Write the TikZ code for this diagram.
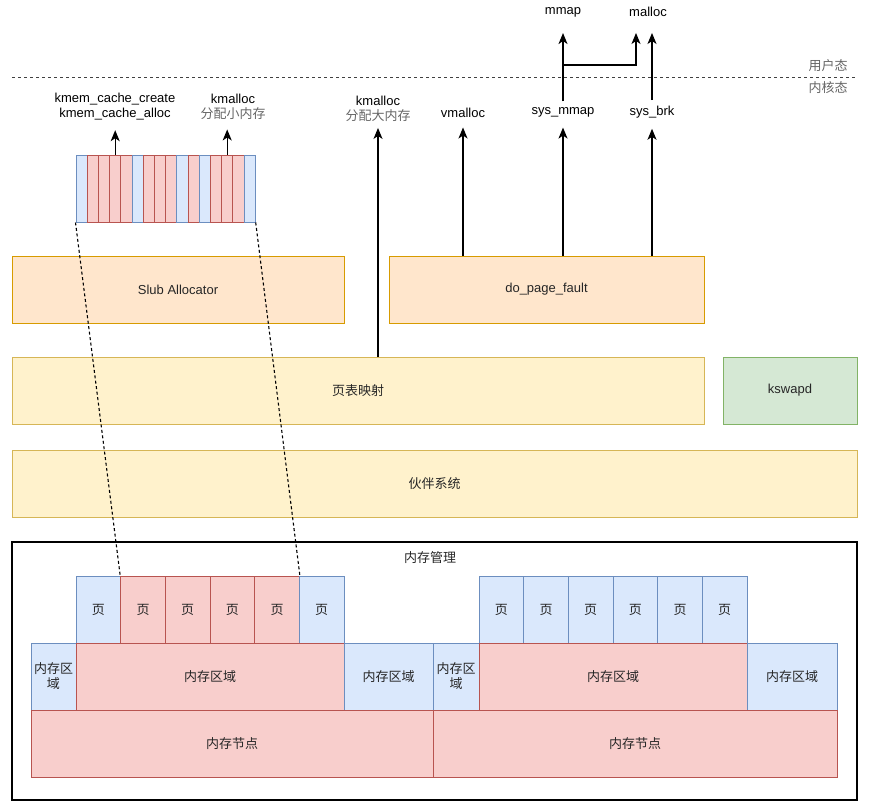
\documentclass[tikz,border=0pt]{standalone}
\usepackage{fontspec}
\setmainfont{Liberation Sans}
\newfontfamily\cjk{Noto Sans CJK SC}
\usepackage{tikz}
\usetikzlibrary{arrows.meta,positioning,calc}
\definecolor{bluefill}{HTML}{DAE8FC}
\definecolor{blueline}{HTML}{6C8EBF}
\definecolor{redfill}{HTML}{F8CECC}
\definecolor{redline}{HTML}{B85450}
\definecolor{orafill}{HTML}{FFE6CC}
\definecolor{oraline}{HTML}{D79B00}
\definecolor{yelfill}{HTML}{FFF2CC}
\definecolor{yelline}{HTML}{D6B656}
\definecolor{grnfill}{HTML}{D5E8D4}
\definecolor{grnline}{HTML}{82B366}
\definecolor{txtgray}{HTML}{666666}
\newcommand{\fs}{\fontsize{13}{15}\selectfont}

\begin{document}
\begin{tikzpicture}[x=1pt, y=-1pt,
  box/.style={draw, line width=1pt, inner sep=0pt, minimum height=67pt, font=\fs\cjk, text=black!85},
  cellb/.style={box, fill=bluefill, draw=blueline},
  cellr/.style={box, fill=redfill, draw=redline},
  orabox/.style={box, fill=orafill, draw=oraline, font=\fs},
  yelbox/.style={box, fill=yelfill, draw=yelline},
  grnbox/.style={box, fill=grnfill, draw=grnline, font=\fs},
  lab/.style={font=\fs, align=center, inner sep=1pt},
  graylab/.style={font=\fs\cjk, text=txtgray, inner sep=1pt},
  arr/.style={-{Stealth[length=11pt,width=9pt,inset=3pt]}, line width=1.2pt, shorten >=9pt},
  sep/.style={dashed, dash pattern=on 3pt off 3pt, line width=1pt, draw=black!75},
  link/.style={dashed, dash pattern=on 3pt off 2.5pt, line width=1.1pt}
]
\useasboundingbox (0,0) rectangle (869,809);

% user / kernel boundary
\coordinate (sepl) at (12,77);
\coordinate (sepr) at (857,77);
\draw[sep] (sepl) -- (sepr);
\node[graylab] (user) at (828,66) {用户态};
\node[graylab] (kern) at (828,88) {内核态};

% labels
\node[lab] (mmap) at (563,12) {mmap};
\node[lab] (malloc) at (648,12) {malloc};
\node[lab] (kmem) at (115,106.5) {kmem\_cache\_create\\kmem\_cache\_alloc};
\node[lab] (ksmall) at (233,106.5) {kmalloc\\{\cjk\color{txtgray}分配小内存}};
\node[lab] (kbig) at (378,109) {kmalloc\\{\cjk\color{txtgray}分配大内存}};
\node[lab] (vm) at (463,112.5) {vmalloc};
\node[lab] (smmap) at (563,112.5) {sys\_mmap};
\node[lab] (sbrk) at (652,112.5) {sys\_brk};

% slab objects
\foreach \c [count=\i from 0] in {b,r,r,r,r,b,r,r,r,b,r,b,r,r,r,b}
  \node[cell\c, minimum width=11.2pt] (s\i) at (81.6+11.2*\i,188.5) {};

% layers
\node[orabox, minimum width=332pt] (slub) at (178,289.5) {Slub Allocator};
\node[orabox, minimum width=315pt] (pf) at (546.5,289.5) {do\_page\_fault};
\node[yelbox, minimum width=692pt] (pt) at (358,390.5) {页表映射};
\node[grnbox, minimum width=134pt] (ksw) at (790,390.5) {kswapd};
\node[yelbox, minimum width=845pt] (buddy) at (434.5,483.5) {伙伴系统};

% memory management
\node[draw, line width=1.2pt, minimum width=845pt, minimum height=258pt, inner sep=0pt] (mm) at (434.5,671) {};
\node[lab, font=\fs\cjk, text=black!85] (mmlab) at (430,558) {内存管理};

\foreach \c [count=\i] in {b,r,r,r,r,b}
  \node[cell\c, minimum width=44.67pt] (p\i) at (76+44.67*\i-22.33,609.5) {页};
\foreach \i in {1,...,6}
  \node[cellb, minimum width=44.67pt] (q\i) at (479+44.67*\i-22.33,609.5) {页};

\node[cellb, minimum width=45pt, align=center] (za) at (53.5,676.5) {内存区\\域};
\node[cellr, minimum width=268pt] (zb) at (210,676.5) {内存区域};
\node[cellb, minimum width=89pt] (zc) at (388.5,676.5) {内存区域};
\node[cellb, minimum width=46pt, align=center] (zd) at (456,676.5) {内存区\\域};
\node[cellr, minimum width=268pt] (ze) at (613,676.5) {内存区域};
\node[cellb, minimum width=90pt] (zf) at (792,676.5) {内存区域};

\node[cellr, minimum width=402pt] (n1) at (232,743.5) {内存节点};
\node[cellr, minimum width=404pt] (n2) at (635,743.5) {内存节点};

% connections
\draw[link] (s0.south west) -- (p2.north west);
\draw[link] (s15.south east) -- (p5.north east);
\draw[arr] (s3.north) -- (s3.north |- kmem.south);
\draw[arr] (s13.north) -- (s13.north |- ksmall.south);
\draw[arr, shorten >=5pt] (kbig.south |- pt.north) -- (kbig.south);
\draw[arr] (vm.south |- pf.north) -- (vm.south);
\draw[arr] (smmap.south |- pf.north) -- (smmap.south);
\draw[arr] (sbrk.south |- pf.north) -- (sbrk.south);
\draw[arr, shorten <=5pt, shorten >=15pt] (smmap.north) -- (mmap.south);
\draw[arr, shorten <=5pt, shorten >=15pt] (sbrk.north) -- (sbrk.north |- malloc.south);
\coordinate (fork) at (563,65);
\draw[arr, shorten >=15pt] (fork) -| ([xshift=-12pt]malloc.south);
\end{tikzpicture}
\end{document}
